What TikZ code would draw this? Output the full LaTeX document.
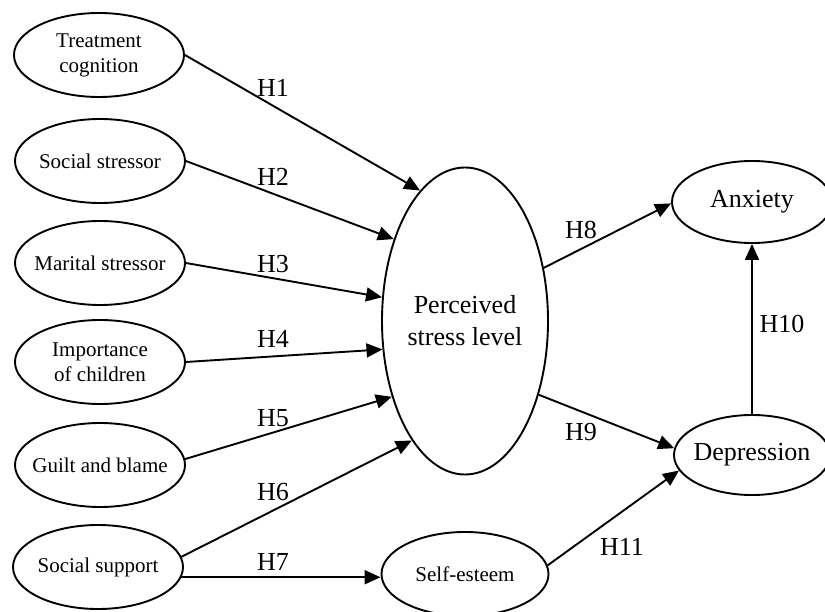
\documentclass[tikz,border=0pt]{standalone}
\usepackage{fontspec}
\setmainfont{Liberation Serif}
\usetikzlibrary{arrows.meta,shapes.geometric}
\begin{document}
\begin{tikzpicture}[x=1pt,y=-1pt,
  ell/.style={draw, ellipse, line width=1.9pt, inner sep=0pt},
  smallell/.style={ell, minimum width=170pt, minimum height=84pt},
  smalltxt/.style={font=\fontsize{21}{25}\selectfont, align=center},
  bigtxt/.style={font=\fontsize{26}{32}\selectfont, align=center},
  lab/.style={font=\fontsize{26}{30}\selectfont, inner sep=0pt},
  arr/.style={line width=1.9pt, -{Triangle[length=16pt,width=14pt]}}]
\useasboundingbox (0,0) rectangle (825,612);

% left column
\node[smallell, label={[smalltxt]center:{Treatment\\cognition}}] (TC) at (99,55) {};
\node[smallell, label={[smalltxt]center:{Social stressor}}] (SSt) at (100,161) {};
\node[smallell, label={[smalltxt]center:{Marital stressor}}] (MS) at (100,263) {};
\node[smallell, label={[smalltxt]center:{Importance\\of children}}] (IC) at (100,362) {};
\node[smallell, label={[smalltxt]center:{Guilt and blame}}] (GB) at (100,465) {};
\node[smallell, label={[smalltxt]center:{Social support}}] (SSp) at (98,567) {};

% centre
\node[ell, minimum width=166pt, minimum height=307pt,
      label={[bigtxt]center:{Perceived\\stress level}}] (P) at (465,321) {};
\node[ell, minimum width=167pt, minimum height=84pt,
      label={[smalltxt]center:{Self-esteem}}] (SE) at (465,574) {};

% right
\node[ell, minimum width=160pt, minimum height=82pt,
      label={[bigtxt]center:{Anxiety}}] (A) at (752,202) {};
\node[ell, minimum width=156pt, minimum height=80pt,
      label={[bigtxt]center:{Depression}}] (D) at (752,455) {};

% connectors
\draw[arr] (TC.east) -- (P.109.5);
\draw[arr] (SSt.east) -- (P.131);
\draw[arr] (MS.east) -- (P.164);
\draw[arr] (IC.east) -- (P.199);
\draw[arr] (GB.4) -- (P.226.5);
\draw[arr] (SSp.7) -- (P.246);
\draw[arr] (SSp.-7) -- (SSp.-7 -| SE.west);
\draw[arr] (P.34) -- (A.181);
\draw[arr] (P.-45.4) -- (D.175);
\draw[arr] (D.north) -- (A.south);
\draw[arr] (SE.6) -- (D.192);

% labels
\node[lab] (h1) at (273,88) {H1};
\node[lab] (h2) at (273,177) {H2};
\node[lab] (h3) at (273,264) {H3};
\node[lab] (h4) at (273,339) {H4};
\node[lab] (h5) at (273,418) {H5};
\node[lab] (h6) at (273,492) {H6};
\node[lab] (h7) at (273,562) {H7};
\node[lab] (h8) at (581,230) {H8};
\node[lab] (h9) at (581,432) {H9};
\node[lab] (h10) at (782,324) {H10};
\node[lab] (h11) at (622,547) {H11};
\end{tikzpicture}
\end{document}
